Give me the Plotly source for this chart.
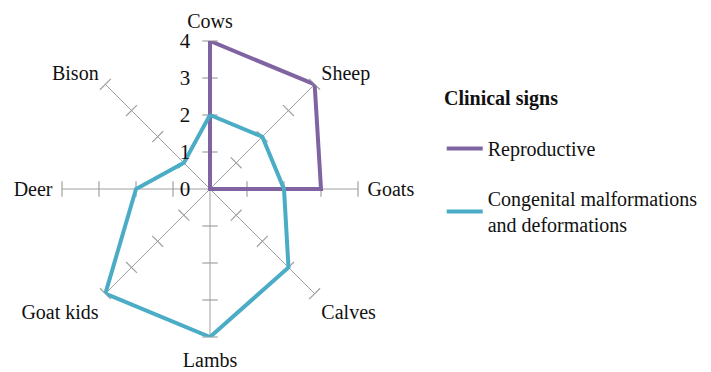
import plotly.graph_objects as go

categories = ["Cows", "Sheep", "Goats", "Calves", "Lambs", "Goat kids", "Deer", "Bison"]
reproductive = [4, 4, 3, 0, 0, 0, 0, 0]
congenital = [2, 2, 2, 3, 4, 4, 2, 1]
radial_ticks = [0, 1, 2, 3, 4]

purple = "#8064A2"
teal = "#4BACC6"
grey = "#A0A0A0"
font = "Times New Roman, Liberation Serif, DejaVu Serif, serif"
txt = "#111"

fig = go.Figure()

# little tick marks across every spoke (Excel style)
spoke_angles = [i * 360 / len(categories) for i in range(len(categories))]
tick_r, tick_t, tick_a = [], [], []
for cat, ang in zip(categories, spoke_angles):
    for r in radial_ticks[1:]:
        tick_r.append(r)
        tick_t.append(cat)
        tick_a.append(ang)
fig.add_trace(go.Scatterpolar(
    r=tick_r, theta=tick_t, mode="markers", showlegend=False, hoverinfo="skip",
    marker=dict(symbol="line-ew", size=11, angle=tick_a,
                line=dict(color=grey, width=1.2)),
))

fig.add_trace(go.Scatterpolar(
    r=reproductive + reproductive[:1], theta=categories + categories[:1],
    mode="lines", name="Reproductive", legendgroup="a",
    line=dict(color=purple, width=4),
))
fig.add_trace(go.Scatterpolar(
    r=congenital + congenital[:1], theta=categories + categories[:1],
    mode="lines", name="Congenital malformations<br>and deformations", legendgroup="b",
    line=dict(color=teal, width=4),
))

fig.update_layout(
    width=711, height=372,
    margin=dict(l=0, r=0, t=0, b=0),
    paper_bgcolor="white",
    font=dict(family=font, size=20, color=txt),
    polar=dict(
        domain=dict(x=[54 / 711, 350 / 711], y=[43 / 372, 339 / 372]),
        bgcolor="white",
        angularaxis=dict(direction="clockwise", rotation=90, showline=False,
                         showgrid=True, gridcolor=grey, gridwidth=1.2,
                         ticks="outside", ticklen=5, tickcolor="rgba(0,0,0,0)",
                         tickfont=dict(family=font, size=20, color=txt)),
        radialaxis=dict(range=[0, 4], angle=90, tickangle=90, tickvals=radial_ticks,
                        showgrid=False, showline=False,
                        ticks="outside", ticklen=12, tickcolor="rgba(0,0,0,0)",
                        side="counterclockwise",
                        tickfont=dict(family=font, size=21, color=txt)),
    ),
    legend=dict(
        x=0.610, y=0.675, xanchor="left", yanchor="top",
        traceorder="grouped", tracegroupgap=21, itemwidth=36,
        font=dict(family=font, size=20, color=txt),
    ),
    annotations=[dict(text="<b>Clinical signs</b>", x=434 / 711, y=0.758,
                      xref="paper", yref="paper", xanchor="left", yanchor="middle",
                      showarrow=False, font=dict(family=font, size=20, color=txt))],
)

fig.write_html("out.html")
